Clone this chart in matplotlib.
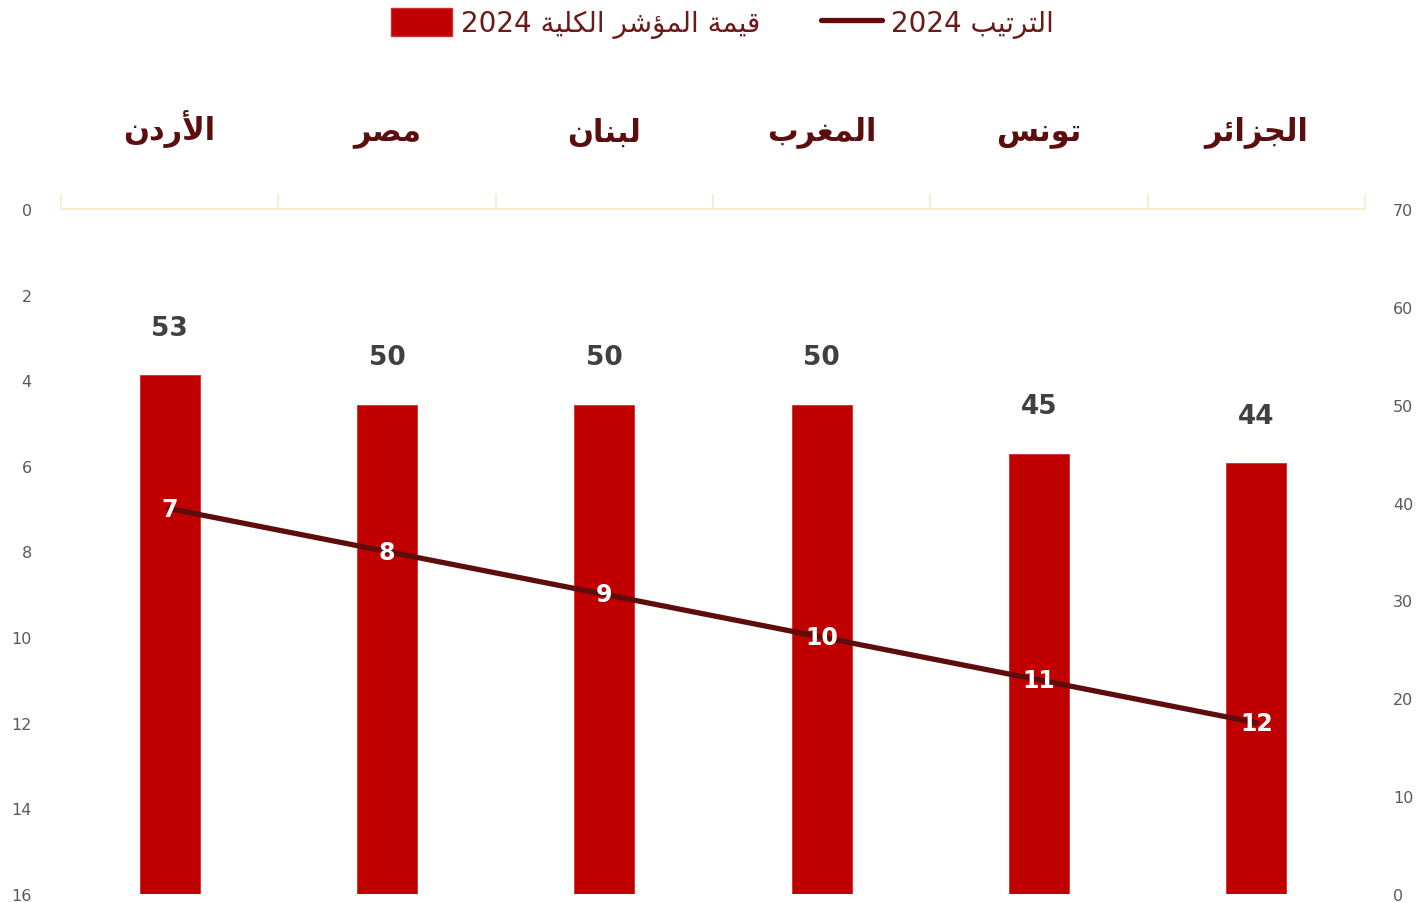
import matplotlib
matplotlib.use('Agg')
import matplotlib.pyplot as plt
from matplotlib.patches import Patch
from matplotlib.lines import Line2D
import numpy as np

# Arabic presentation forms: (isolated, final, initial, medial) or (isolated, final)
FORMS = {
    'ا': (0xFE8D, 0xFE8E), 'أ': (0xFE83, 0xFE84), 'د': (0xFEA9, 0xFEAA),
    'ر': (0xFEAD, 0xFEAE), 'ز': (0xFEAF, 0xFEB0), 'و': (0xFEED, 0xFEEE),
    'ؤ': (0xFE85, 0xFE86), 'ة': (0xFE93, 0xFE94),
    'ب': (0xFE8F, 0xFE90, 0xFE91, 0xFE92), 'ت': (0xFE95, 0xFE96, 0xFE97, 0xFE98),
    'ج': (0xFE9D, 0xFE9E, 0xFE9F, 0xFEA0), 'س': (0xFEB1, 0xFEB2, 0xFEB3, 0xFEB4),
    'ش': (0xFEB5, 0xFEB6, 0xFEB7, 0xFEB8), 'ص': (0xFEB9, 0xFEBA, 0xFEBB, 0xFEBC),
    'غ': (0xFECD, 0xFECE, 0xFECF, 0xFED0), 'ق': (0xFED5, 0xFED6, 0xFED7, 0xFED8),
    'ك': (0xFED9, 0xFEDA, 0xFEDB, 0xFEDC), 'ل': (0xFEDD, 0xFEDE, 0xFEDF, 0xFEE0),
    'م': (0xFEE1, 0xFEE2, 0xFEE3, 0xFEE4), 'ن': (0xFEE5, 0xFEE6, 0xFEE7, 0xFEE8),
    'ي': (0xFEF1, 0xFEF2, 0xFEF3, 0xFEF4), 'ئ': (0xFE89, 0xFE8A, 0xFE8B, 0xFE8C),
}
LAM_ALEF = {'ا': (0xFEFB, 0xFEFC), 'أ': (0xFEF7, 0xFEF8)}


def joins_next(c):
    return c in FORMS and len(FORMS[c]) == 4


def shape(text):
    """Shape Arabic text and return it in visual (left-to-right) order."""
    out = []
    i = 0
    n = len(text)
    while i < n:
        c = text[i]
        if c not in FORMS:
            out.append(c)
            i += 1
            continue
        pc = i > 0 and joins_next(text[i - 1])
        if c == 'ل' and i + 1 < n and text[i + 1] in LAM_ALEF:
            lig = LAM_ALEF[text[i + 1]]
            out.append(chr(lig[1] if pc else lig[0]))
            i += 2
            continue
        nc = joins_next(c) and i + 1 < n and text[i + 1] in FORMS
        f = FORMS[c]
        if pc and nc:
            code = f[3]
        elif pc:
            code = f[1]
        elif nc:
            code = f[2]
        else:
            code = f[0]
        out.append(chr(code))
        i += 1
    return ''.join(out[::-1])


# Data
countries = ['الأردن', 'مصر', 'لبنان', 'المغرب', 'تونس', 'الجزائر']
index_value = [53, 50, 50, 50, 45, 44]
rank = [7, 8, 9, 10, 11, 12]
bar_label = 'قيمة المؤشر الكلية'
line_label = 'الترتيب'
year = '2024'

bar_color = '#C00000'
line_color = '#5E0C0C'
cat_color = '#5C0E0E'
tick_color = '#595959'

plt.rcParams['font.family'] = ['DejaVu Sans']

fig = plt.figure(figsize=(14.22, 9.04), dpi=100)
ax = fig.add_axes([61 / 1422, 1 - 895 / 904, 1304 / 1422, 685 / 904])
ax2 = ax.twinx()

x = np.arange(len(countries))

# bars on right axis
ax2.bar(x, index_value, width=0.275, color=bar_color, edgecolor='#CC3030', linewidth=0.6, zorder=2)
ax2.set_ylim(0, 70)
ax2.set_yticks(np.arange(0, 71, 10))
for xi, v in zip(x, index_value):
    ax2.annotate(str(v), (xi, v), xytext=(0, 34), textcoords='offset points',
                 ha='center', va='center', fontsize=19, fontweight='bold', color='#404040')

# line on left axis (inverted)
ax.set_zorder(ax2.get_zorder() + 1)
ax.patch.set_visible(False)
ax.plot(x, rank, color=line_color, linewidth=3.8, solid_capstyle='round', zorder=3)
for xi, r in zip(x, rank):
    ax.text(xi, r, str(r), ha='center', va='center', fontsize=17, fontweight='bold',
            color='white', zorder=4)
ax.set_ylim(16, 0)
ax.set_yticks(np.arange(0, 17, 2))
ax.set_xlim(-0.5, len(countries) - 0.5)

for a in (ax, ax2):
    for s in a.spines.values():
        s.set_visible(False)
ax.spines['top'].set_visible(True)
ax.spines['top'].set_color('#FBE9CC')
ax.spines['top'].set_linewidth(1.5)

ax.tick_params(axis='y', length=0, pad=21, labelsize=11.5, labelcolor=tick_color)
ax2.tick_params(axis='y', length=0, pad=20, labelsize=11.5, labelcolor=tick_color)

# category axis on top: boundary ticks + labels at centers
ax.xaxis.set_ticks_position('top')
ax.set_xticks(np.arange(-0.5, len(countries), 1.0))
ax.set_xticklabels([])
ax.set_xticks(x, minor=True)
ax.set_xticklabels([shape(c) for c in countries], minor=True)
ax.tick_params(axis='x', which='major', direction='out', length=11, width=1.2,
               color='#FBE9CC', top=True, bottom=False)
ax.tick_params(axis='x', which='minor', length=0, pad=45, labelsize=22,
               labelcolor=cat_color, top=True, bottom=False, labeltop=True, labelbottom=False)
for lbl in ax.get_xticklabels(minor=True):
    lbl.set_fontweight('bold')

handles = [Patch(facecolor=bar_color, edgecolor='#CC3030'),
           Line2D([0], [0], color=line_color, linewidth=3.8, solid_capstyle='round')]
labels = [year + ' ' + shape(bar_label), year + ' ' + shape(line_label)]
fig.legend(handles, labels, loc='center', bbox_to_anchor=(0.508, 1 - 24 / 904), ncol=2,
           frameon=False, fontsize=20, labelcolor='#6B1A1A', handlelength=2.2,
           handleheight=1.2, handletextpad=0.3, columnspacing=2.2)

fig.savefig('out.png', dpi=100)
